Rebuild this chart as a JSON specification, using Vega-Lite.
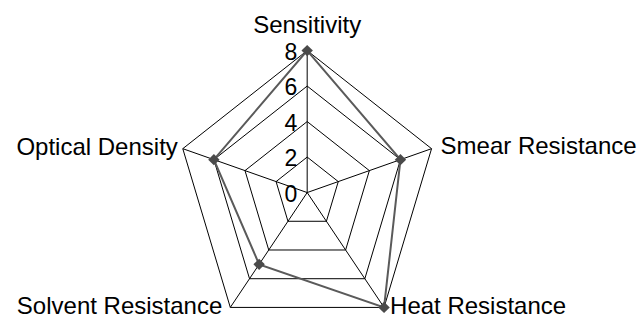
{
  "$schema": "https://vega.github.io/schema/vega-lite/v6.json",
  "width": 641,
  "height": 323,
  "autosize": {"type": "fit", "contains": "padding"},
  "padding": 0,
  "background": "white",
  "config": {"view": {"stroke": null}, "font": "Liberation Sans"},
  "datasets": {
    "scores": [
      {"axis": "Sensitivity", "idx": 0, "value": 8},
      {"axis": "Smear Resistance", "idx": 1, "value": 6},
      {"axis": "Heat Resistance", "idx": 2, "value": 8},
      {"axis": "Solvent Resistance", "idx": 3, "value": 5},
      {"axis": "Optical Density", "idx": 4, "value": 6}
    ],
    "grid": [
      {"level": 2, "idx": 0}, {"level": 2, "idx": 1}, {"level": 2, "idx": 2}, {"level": 2, "idx": 3}, {"level": 2, "idx": 4},
      {"level": 4, "idx": 0}, {"level": 4, "idx": 1}, {"level": 4, "idx": 2}, {"level": 4, "idx": 3}, {"level": 4, "idx": 4},
      {"level": 6, "idx": 0}, {"level": 6, "idx": 1}, {"level": 6, "idx": 2}, {"level": 6, "idx": 3}, {"level": 6, "idx": 4},
      {"level": 8, "idx": 0}, {"level": 8, "idx": 1}, {"level": 8, "idx": 2}, {"level": 8, "idx": 3}, {"level": 8, "idx": 4}
    ],
    "ticks": [{"level": 0}, {"level": 2}, {"level": 4}, {"level": 6}, {"level": 8}]
  },
  "encoding": {
    "x": {"field": "px", "type": "quantitative", "scale": {"domain": [-18.79, 20.42], "nice": false, "zero": false}, "axis": null},
    "y": {"field": "py", "type": "quantitative", "scale": {"domain": [-7.35, 10.85], "nice": false, "zero": false}, "axis": null}
  },
  "layer": [
    {
      "data": {"name": "grid"},
      "transform": [
        {"calculate": "datum.idx * 2 * PI / 5", "as": "ang"},
        {"calculate": "datum.level * sin(datum.ang)", "as": "px"},
        {"calculate": "datum.level * cos(datum.ang)", "as": "py"}
      ],
      "mark": {"type": "line", "interpolate": "linear-closed", "color": "black", "strokeWidth": 1},
      "encoding": {
        "detail": {"field": "level", "type": "nominal"},
        "order": {"field": "idx", "type": "quantitative"}
      }
    },
    {
      "data": {"name": "grid"},
      "transform": [
        {"filter": "datum.level == 8"},
        {"calculate": "datum.idx * 2 * PI / 5", "as": "ang"},
        {"calculate": "datum.level * sin(datum.ang)", "as": "px"},
        {"calculate": "datum.level * cos(datum.ang)", "as": "py"}
      ],
      "mark": {"type": "rule", "color": "black", "strokeWidth": 1},
      "encoding": {
        "x": {"datum": 0, "type": "quantitative"},
        "y": {"datum": 0, "type": "quantitative"},
        "x2": {"field": "px"},
        "y2": {"field": "py"}
      }
    },
    {
      "data": {"name": "ticks"},
      "transform": [
        {"calculate": "0", "as": "px"},
        {"calculate": "datum.level", "as": "py"}
      ],
      "mark": {"type": "text", "align": "right", "baseline": "middle", "dx": -10, "dy": 2, "fontSize": 23, "color": "black"},
      "encoding": {"text": {"field": "level", "type": "quantitative"}}
    },
    {
      "data": {"name": "scores"},
      "transform": [
        {"calculate": "datum.idx * 2 * PI / 5", "as": "ang"},
        {"calculate": "datum.value * sin(datum.ang)", "as": "px"},
        {"calculate": "datum.value * cos(datum.ang)", "as": "py"}
      ],
      "layer": [
        {
          "mark": {"type": "line", "interpolate": "linear-closed", "color": "#5a5a5a", "strokeWidth": 2},
          "encoding": {"order": {"field": "idx", "type": "quantitative"}}
        },
        {
          "mark": {"type": "point", "shape": "diamond", "filled": true, "opacity": 1, "size": 130, "color": "#4a4a4a"}
        }
      ]
    },
    {
      "data": {"name": "scores"},
      "transform": [
        {"calculate": "datum.idx * 2 * PI / 5", "as": "ang"},
        {"calculate": "8 * sin(datum.ang)", "as": "px"},
        {"calculate": "8 * cos(datum.ang)", "as": "py"}
      ],
      "layer": [
        {
          "transform": [{"filter": "datum.idx == 0"}],
          "mark": {"type": "text", "align": "center", "baseline": "alphabetic", "dy": -18, "fontSize": 24, "color": "black"},
          "encoding": {"text": {"field": "axis"}}
        },
        {
          "transform": [{"filter": "datum.idx == 1"}],
          "mark": {"type": "text", "align": "left", "baseline": "middle", "dx": 9, "dy": -2, "fontSize": 24, "color": "black"},
          "encoding": {"text": {"field": "axis"}}
        },
        {
          "transform": [{"filter": "datum.idx == 2"}],
          "mark": {"type": "text", "align": "left", "baseline": "middle", "dx": 6, "dy": 0, "fontSize": 24, "color": "black"},
          "encoding": {"text": {"field": "axis"}}
        },
        {
          "transform": [{"filter": "datum.idx == 3"}],
          "mark": {"type": "text", "align": "right", "baseline": "middle", "dx": -8, "dy": 0, "fontSize": 24, "color": "black"},
          "encoding": {"text": {"field": "axis"}}
        },
        {
          "transform": [{"filter": "datum.idx == 4"}],
          "mark": {"type": "text", "align": "right", "baseline": "middle", "dx": -5, "dy": -1, "fontSize": 24, "color": "black"},
          "encoding": {"text": {"field": "axis"}}
        }
      ]
    }
  ]
}
